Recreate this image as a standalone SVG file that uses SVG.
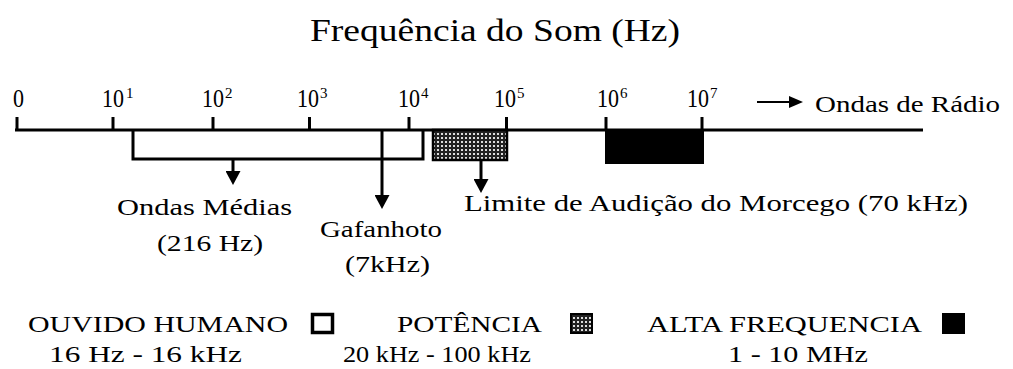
<svg xmlns="http://www.w3.org/2000/svg" width="1013" height="369" viewBox="0 0 1013 369">
<style>
text{font-family:"Liberation Serif","Times New Roman",serif;fill:#000}
.t{font-size:23px}
.tick{font-size:25px}
.sup{font-size:15px}
.ln{stroke:#000;stroke-width:3;fill:none}
.con{stroke:#000;stroke-width:3;fill:none}
</style>
<defs>
<pattern id="dots" width="4" height="4" patternUnits="userSpaceOnUse">
<rect width="4" height="4" fill="#222"/>
<rect x="1" y="1" width="2" height="2" fill="#ddd"/>
</pattern>
<marker id="ah" markerUnits="userSpaceOnUse" viewBox="0 0 14 15" refX="6" refY="7.5" markerWidth="14" markerHeight="15" orient="auto">
<path d="M0,0 L14,7.5 L0,15 Z" fill="#000"/>
</marker>
<marker id="ah2" markerUnits="userSpaceOnUse" viewBox="0 0 14 12" refX="6" refY="6" markerWidth="14" markerHeight="12" orient="auto">
<path d="M0,0 L14,6 L0,12 Z" fill="#000"/>
</marker>
</defs>
<rect width="1013" height="369" fill="#fff"/>

<g id="title">
<text x="310" y="41" font-size="31" textLength="370" lengthAdjust="spacingAndGlyphs">Frequência do Som (Hz)</text>
</g>

<g id="axis">
<line class="ln" x1="15" y1="130" x2="923" y2="130"/>
<line class="ln" x1="17" y1="117" x2="17" y2="130"/>
<line class="ln" x1="113" y1="117" x2="113" y2="130"/>
<line class="ln" x1="213" y1="117" x2="213" y2="130"/>
<line class="ln" x1="309.5" y1="117" x2="309.5" y2="130"/>
<line class="ln" x1="409" y1="117" x2="409" y2="130"/>
<line class="ln" x1="506.5" y1="117" x2="506.5" y2="130"/>
<line class="ln" x1="606" y1="117" x2="606" y2="130"/>
<line class="ln" x1="702" y1="117" x2="702" y2="130"/>
<text class="tick" x="13" y="107" textLength="11" lengthAdjust="spacingAndGlyphs">0</text>
<text class="tick" x="102" y="107" textLength="22" lengthAdjust="spacingAndGlyphs">10</text><text class="sup" x="126" y="98">1</text>
<text class="tick" x="202" y="107" textLength="22" lengthAdjust="spacingAndGlyphs">10</text><text class="sup" x="225" y="98">2</text>
<text class="tick" x="297" y="107" textLength="22" lengthAdjust="spacingAndGlyphs">10</text><text class="sup" x="320" y="98">3</text>
<text class="tick" x="398" y="107" textLength="22" lengthAdjust="spacingAndGlyphs">10</text><text class="sup" x="421" y="98">4</text>
<text class="tick" x="494" y="107" textLength="22" lengthAdjust="spacingAndGlyphs">10</text><text class="sup" x="517" y="98">5</text>
<text class="tick" x="597" y="107" textLength="22" lengthAdjust="spacingAndGlyphs">10</text><text class="sup" x="620" y="98">6</text>
<text class="tick" x="687" y="107" textLength="22" lengthAdjust="spacingAndGlyphs">10</text><text class="sup" x="710" y="98">7</text>
</g>

<g id="radio-label">
<text class="t" x="815" y="112" textLength="185" lengthAdjust="spacingAndGlyphs">Ondas de Rádio</text>
</g>

<g id="human-range">
<polyline class="ln" points="133,130 133,159 423,159 423,130"/>
</g>

<g id="power-range">
<rect x="433" y="130" width="74" height="30" fill="url(#dots)" stroke="#000" stroke-width="2.5"/>
</g>

<g id="high-freq-range">
<rect x="605" y="130" width="99" height="34" fill="#000"/>
</g>

<g id="connectors">
<line class="con" x1="233" y1="159" x2="233" y2="177" marker-end="url(#ah)"/>
<line class="con" x1="382" y1="130" x2="382" y2="201" marker-end="url(#ah)"/>
<line class="con" x1="481" y1="161" x2="481" y2="185" marker-end="url(#ah)"/>
<line stroke="#000" stroke-width="2" x1="757" y1="102" x2="795" y2="102" marker-end="url(#ah2)"/>
</g>

<g id="ondas-medias">
<text class="t" x="117" y="215" textLength="175" lengthAdjust="spacingAndGlyphs">Ondas Médias</text>
<text class="t" x="157" y="251" textLength="106" lengthAdjust="spacingAndGlyphs">(216 Hz)</text>
</g>

<g id="gafanhoto">
<text class="t" x="320" y="237" textLength="122" lengthAdjust="spacingAndGlyphs">Gafanhoto</text>
<text class="t" x="345" y="272" textLength="85" lengthAdjust="spacingAndGlyphs">(7kHz)</text>
</g>

<g id="morcego">
<text class="t" x="464" y="211" textLength="504" lengthAdjust="spacingAndGlyphs">Limite de Audição do Morcego (70 kHz)</text>
</g>

<g id="legend-human">
<text class="t" x="28" y="332" textLength="260" lengthAdjust="spacingAndGlyphs">OUVIDO HUMANO</text>
<rect x="312.5" y="314.5" width="20" height="18" fill="#fff" stroke="#000" stroke-width="3.5"/>
<text class="t" x="49" y="362" textLength="193" lengthAdjust="spacingAndGlyphs">16 Hz - 16 kHz</text>
</g>

<g id="legend-power">
<text class="t" x="397" y="332" textLength="145" lengthAdjust="spacingAndGlyphs">POTÊNCIA</text>
<rect x="571" y="314" width="21" height="19" fill="url(#dots)" stroke="#000" stroke-width="2"/>
<text class="t" x="343" y="362" textLength="188" lengthAdjust="spacingAndGlyphs">20 kHz - 100 kHz</text>
</g>

<g id="legend-high">
<text class="t" x="647" y="332" textLength="275" lengthAdjust="spacingAndGlyphs">ALTA FREQUENCIA</text>
<rect x="942" y="313" width="23" height="21" fill="#000"/>
<text class="t" x="728" y="362" textLength="140" lengthAdjust="spacingAndGlyphs">1 - 10 MHz</text>
</g>
</svg>
